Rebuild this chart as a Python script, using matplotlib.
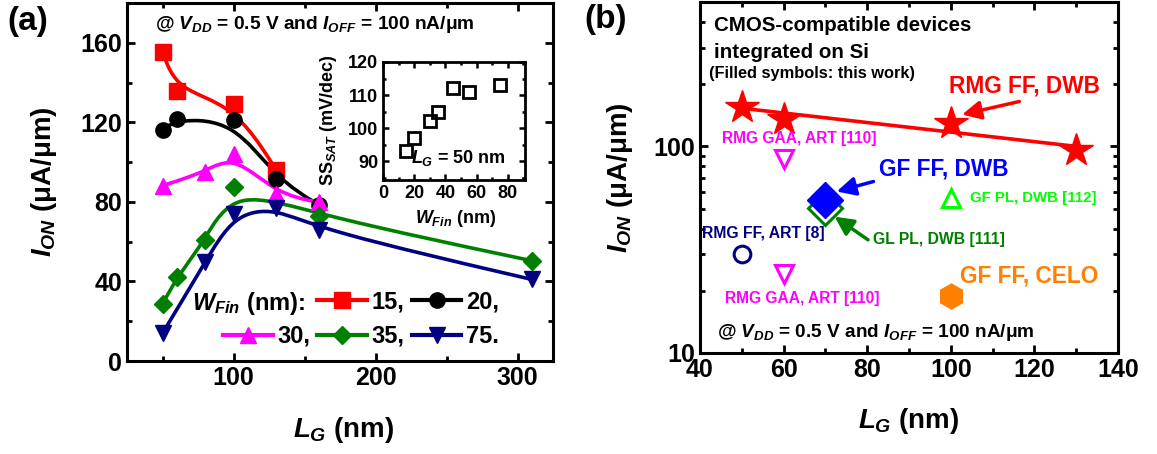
import numpy as np
import matplotlib
matplotlib.use("Agg")
import matplotlib.pyplot as plt
from matplotlib.path import Path
from matplotlib.patches import PathPatch
from matplotlib.lines import Line2D
from matplotlib.ticker import MultipleLocator, LogLocator, NullFormatter, FuncFormatter

plt.rcParams.update({
    "font.family": "Liberation Sans",
    "font.weight": "bold",
    "axes.labelweight": "bold",
    "mathtext.fontset": "custom",
    "mathtext.rm": "Liberation Sans:bold",
    "mathtext.bf": "Liberation Sans:bold",
    "mathtext.it": "Liberation Sans:italic:bold",
    "axes.linewidth": 2.2,
})

# ---- panel (a): I_ON vs L_G for several fin widths
lg_15 = [50, 60, 100, 130]
ion_15 = [155.5, 135.8, 129.4, 96.1]
lg_20 = [50, 60, 100, 130, 160]
ion_20 = [116.3, 121.5, 121.0, 91.6, 78.5]
lg_30 = [50, 80, 100, 130, 160]
ion_30 = [88.2, 95.0, 103.9, 84.0, 79.8]
lg_35 = [50, 60, 80, 100, 160, 310]
ion_35 = [28.6, 42.0, 60.8, 87.4, 73.1, 50.4]
lg_75 = [50, 80, 100, 130, 160, 310]
ion_75 = [14.0, 49.6, 74.0, 77.0, 66.0, 41.0]

# inset: SS_SAT vs fin width at L_G = 50 nm
wfin = [15, 20, 30, 35, 45, 55, 75]
ss_sat = [93, 97, 102, 105, 112, 111, 113]

# ---- panel (b): benchmark of CMOS-compatible devices on Si
dwb_lg = [50, 60, 100, 130]
dwb_ion = ion_15
fit_lg = [50, 130]
fit_ion = [153, 100]
gaa_lg = [60, 60]
gaa_ion = [86.8, 24.1]
art8_lg, art8_ion = 50, 30.0
gfdwb_lg, gfdwb_ion = 70, 55.1
glpl_lg, glpl_ion = 70, 50.1
gfpl_lg, gfpl_ion = 100, 56.1
celo_lg, celo_ion = 100, 18.8


def bspline_path(x, y):
    """Cubic B-spline (clamped) with the points as control polygon -> Bezier path."""
    p = np.column_stack([x, y]).astype(float)
    q = np.vstack([p[0], p[0], p, p[-1], p[-1]])
    verts = [q[0]]
    codes = [Path.MOVETO]
    for i in range(len(q) - 3):
        q0, q1, q2, q3 = q[i:i + 4]
        verts += [(4 * q1 + 2 * q2) / 6, (2 * q1 + 4 * q2) / 6, (q1 + 4 * q2 + q3) / 6]
        codes += [Path.CURVE4] * 3
    return Path(verts, codes)


fig = plt.figure(figsize=(11.57, 4.54), dpi=100)
ax = fig.add_axes([0.1098, 0.2048, 0.3684, 0.7886])

series = [
    (lg_15, ion_15, "#ff0000", "s", 11, "15,"),
    (lg_20, ion_20, "black", "o", 11, "20,"),
    (lg_30, ion_30, "#ff00ff", "^", 12, "30,"),
    (lg_35, ion_35, "#008000", "D", 9, "35,"),
    (lg_75, ion_75, "#000080", "v", 12, "75."),
]
handles = {}
for x, y, c, m, ms, lab in series:
    ax.add_patch(PathPatch(bspline_path(x, y), fc="none", ec=c, lw=2.6))
    ax.plot(x, y, ls="none", marker=m, ms=ms, color=c)
    handles[lab] = Line2D([], [], color=c, lw=3, marker=m, ms=ms)

ax.set_xlim(25, 325)
ax.set_ylim(0, 180)
ax.xaxis.set_major_locator(MultipleLocator(100))
ax.xaxis.set_minor_locator(MultipleLocator(50))
ax.yaxis.set_major_locator(MultipleLocator(40))
ax.yaxis.set_minor_locator(MultipleLocator(20))
ax.tick_params(which="both", direction="in", top=True, right=True, width=2, labelsize=18)
ax.tick_params(which="major", length=6)
ax.tick_params(which="minor", length=3.5)
ax.set_xlabel("$L_G$ (nm)", fontsize=20)
ax.set_ylabel("$I_{ON}$ (μA/μm)", fontsize=20)
ax.xaxis.set_label_coords(0.507, -0.15)
ax.yaxis.set_label_coords(-0.16, 0.5)
ax.text(0.066, 0.94, "@ $V_{DD}$ = 0.5 V and $I_{OFF}$ = 100 nA/μm", transform=ax.transAxes,
        fontsize=13.8, va="center", ha="left")

blank = Line2D([], [], color="none")
leg = ax.legend([blank, handles["30,"], handles["15,"], handles["35,"], handles["20,"], handles["75."]],
                ["", "30,", "15,", "35,", "20,", "75."], ncol=3, loc="upper left",
                bbox_to_anchor=(0.225, 0.198), frameon=False, fontsize=17, handlelength=2.1,
                handletextpad=0.2, columnspacing=0.3, labelspacing=0.5, borderpad=0, borderaxespad=0)
ax.text(0.418, 0.162, "$W_{Fin}$ (nm):", transform=ax.transAxes, fontsize=17, ha="right", va="center")

ins = fig.add_axes([0.331, 0.6035, 0.1227, 0.26])
ins.plot(wfin, ss_sat, ls="none", marker="s", ms=9, mfc="none", mec="black", mew=2)
ins.set_xlim(0, 91)
ins.set_ylim(84.3, 120)
ins.xaxis.set_major_locator(MultipleLocator(20))
ins.xaxis.set_minor_locator(MultipleLocator(10))
ins.yaxis.set_major_locator(MultipleLocator(10))
ins.yaxis.set_minor_locator(MultipleLocator(5))
ins.tick_params(which="both", direction="in", top=True, right=True, width=1.8, labelsize=13)
ins.tick_params(which="major", length=4)
ins.tick_params(which="minor", length=2.5)
for s in ins.spines.values():
    s.set_linewidth(2)
ins.set_xlabel("$W_{Fin}$ (nm)", fontsize=13)
ins.set_ylabel("$\\mathrm{SS}_{SAT}$ (mV/dec)", fontsize=13)
ins.xaxis.set_label_coords(0.51, -0.24)
ins.yaxis.set_label_coords(-0.31, 0.51)
ins.text(0.2, 0.19, "$L_G$ = 50 nm", transform=ins.transAxes, fontsize=13, va="center", ha="left")

# ---- panel (b)
bx = fig.add_axes([0.605, 0.2225, 0.3613, 0.7731])
bx.set_yscale("log")
bx.plot(fit_lg, fit_ion, color="#ff0000", lw=2.6)
bx.plot(dwb_lg, dwb_ion, ls="none", marker="*", ms=25, color="#ff0000")
bx.plot(gaa_lg, gaa_ion, ls="none", marker="v", ms=13, mfc="none", mec="#ff00ff", mew=2.2)
bx.plot(art8_lg, art8_ion, ls="none", marker="o", ms=12, mfc="none", mec="#000080", mew=2.2)
bx.plot(glpl_lg, glpl_ion, ls="none", marker="D", ms=17, mfc="none", mec="#008000", mew=2.2)
bx.plot(gfdwb_lg, gfdwb_ion, ls="none", marker="D", ms=18, color="#0000ff")
bx.plot(gfpl_lg, gfpl_ion, ls="none", marker="^", ms=13, mfc="none", mec="#00ff00", mew=2.2)
bx.plot(celo_lg, celo_ion, ls="none", marker="h", ms=18, color="#ff8000")

bx.set_xlim(40, 140)
bx.set_ylim(10, 500)
bx.xaxis.set_major_locator(MultipleLocator(20))
bx.xaxis.set_minor_locator(MultipleLocator(10))
bx.yaxis.set_major_locator(LogLocator(base=10))
bx.yaxis.set_minor_locator(LogLocator(base=10, subs=np.arange(2, 10)))
bx.yaxis.set_major_formatter(FuncFormatter(lambda v, p: f"{v:g}"))
bx.yaxis.set_minor_formatter(NullFormatter())
bx.tick_params(which="both", direction="in", top=True, right=True, width=2, labelsize=18)
bx.tick_params(which="major", length=6)
bx.tick_params(which="minor", length=3.5)
bx.set_xlabel("$L_G$ (nm)", fontsize=20)
bx.set_ylabel("$I_{ON}$ (μA/μm)", fontsize=20)
bx.xaxis.set_label_coords(0.5, -0.15)
bx.yaxis.set_label_coords(-0.155, 0.5)

bx.text(0.034, 0.932, "CMOS-compatible devices", transform=bx.transAxes, fontsize=14.8, va="center")
bx.text(0.034, 0.857, "integrated on Si", transform=bx.transAxes, fontsize=14.8, va="center")
bx.text(0.022, 0.797, "(Filled symbols: this work)", transform=bx.transAxes, fontsize=11.8, va="center")
bx.text(99.6, 197, "RMG FF, DWB", color="#ff0000", fontsize=16.3, va="center")
bx.text(45.3, 109.8, "RMG GAA, ART [110]", color="#ff00ff", fontsize=11.2, va="center")
bx.text(45.9, 18.4, "RMG GAA, ART [110]", color="#ff00ff", fontsize=11.2, va="center")
bx.text(82.8, 77.6, "GF FF, DWB", color="#0000ff", fontsize=16.3, va="center")
bx.text(104.5, 56.5, "GF PL, DWB [112]", color="#00ff00", fontsize=10.8, va="center")
bx.text(40.4, 37.9, "RMG FF, ART [8]", color="#000080", fontsize=11.3, va="center")
bx.text(81.5, 35.3, "GL PL, DWB [111]", color="#008000", fontsize=11.3, va="center")
bx.text(102.3, 23.6, "GF FF, CELO", color="#ff8000", fontsize=16.3, va="center")
bx.text(44, 12.6, "@ $V_{DD}$ = 0.5 V and $I_{OFF}$ = 100 nA/μm", fontsize=13.7, va="center")

arrows = [((116.4, 165), (102.7, 142.6), "#ff0000"),
          ((81.5, 67.6), (72.7, 60.5), "#0000ff"),
          ((80.2, 35.3), (72.2, 45.7), "#008000")]
for tail, head, c in arrows:
    bx.annotate("", xy=head, xytext=tail,
                arrowprops=dict(arrowstyle="-|>,head_length=0.7,head_width=0.35", color=c, lw=2.5,
                                mutation_scale=16, shrinkA=0, shrinkB=0))

fig.text(0.006, 0.952, "(a)", fontsize=24, va="center", ha="left")
fig.text(0.505, 0.956, "(b)", fontsize=24, va="center", ha="left")

fig.savefig("out.png", dpi=100)
